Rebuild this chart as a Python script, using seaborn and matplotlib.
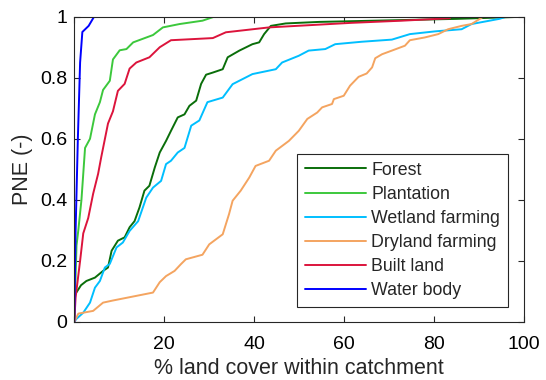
import numpy as np
import pandas as pd
import matplotlib
matplotlib.use("Agg")
import matplotlib.pyplot as plt
import seaborn as sns

categories = ["Forest", "Plantation", "Wetland farming", "Dryland farming", "Built land", "Water body"]
colors = ["#0a6e0a", "#3cc83c", "#00bfff", "#f4a460", "#dc143c", "#0000ff"]

forest_x = [0, 0.2, 1.5, 2.7, 4.6, 6.4, 7.5, 8.3, 9.7, 11.2, 12.3, 13.4, 14.5, 15.6, 16.7, 17.9, 19.0, 20.4,
            21.5, 23.0, 24.5, 25.6, 27.1, 28.2, 29.3, 30.8, 33.0, 34.1, 36.7, 39.6, 41.1, 42.2, 43.7, 47.0,
            54.4, 72.8, 85, 100]
forest_y = [0, 0.09, 0.12, 0.134, 0.145, 0.167, 0.178, 0.233, 0.266, 0.277, 0.31, 0.33, 0.375, 0.43, 0.446,
            0.506, 0.555, 0.593, 0.626, 0.67, 0.68, 0.708, 0.725, 0.78, 0.81, 0.817, 0.828, 0.867, 0.889,
            0.91, 0.916, 0.943, 0.97, 0.978, 0.983, 0.989, 0.993, 1.0]

plant_x = [0, 0.5, 0.9, 1.6, 2.4, 3.5, 4.6, 5.7, 6.4, 7.9, 8.6, 10.1, 11.6, 13.1, 17.5, 19.7, 23.4, 28.5, 31.1]
plant_y = [0, 0.25, 0.30, 0.40, 0.57, 0.60, 0.68, 0.72, 0.76, 0.79, 0.86, 0.89, 0.894, 0.916, 0.94, 0.965,
           0.976, 0.987, 1.0]

wet_x = [0, 0.5, 2.0, 3.5, 4.6, 5.7, 6.8, 7.9, 9.4, 10.8, 12.3, 14.2, 16.0, 17.5, 19.3, 20.4, 21.5, 23.0,
         24.5, 26.0, 27.8, 29.6, 33.0, 35.2, 39.6, 44.8, 46.2, 49.9, 52.1, 55.8, 58.0, 63.9, 70.6, 74.6,
         80.2, 86.1, 88.3, 94.5, 96]
wet_y = [0, 0.01, 0.03, 0.063, 0.112, 0.134, 0.178, 0.19, 0.244, 0.26, 0.298, 0.33, 0.407, 0.44, 0.462,
         0.517, 0.528, 0.555, 0.57, 0.643, 0.66, 0.72, 0.735, 0.779, 0.812, 0.828, 0.85, 0.872, 0.889,
         0.894, 0.91, 0.918, 0.925, 0.943, 0.952, 0.959, 0.976, 0.993, 1.0]

dry_x = [0, 0.9, 4.2, 6.4, 8.6, 17.5, 19.0, 20.4, 22.3, 23.7, 24.8, 28.5, 30.0, 33.0, 34.4, 35.2, 37.0, 38.9,
         40.3, 43.3, 44.8, 47.7, 49.9, 51.8, 54.0, 55.1, 57.3, 57.7, 59.9, 61.3, 63.2, 65.0, 66.2, 66.9,
         68.4, 70.6, 73.5, 74.6, 77.9, 80.9, 83.1, 86.1, 88.3, 90.9]
dry_y = [0, 0.027, 0.036, 0.063, 0.07, 0.096, 0.13, 0.15, 0.167, 0.189, 0.205, 0.22, 0.254, 0.287, 0.353,
         0.397, 0.43, 0.473, 0.511, 0.528, 0.561, 0.593, 0.626, 0.665, 0.686, 0.703, 0.714, 0.73, 0.741,
         0.774, 0.803, 0.814, 0.834, 0.864, 0.877, 0.889, 0.905, 0.923, 0.932, 0.943, 0.959, 0.97, 0.976, 1.0]

built_x = [0, 0.3, 1.3, 2.0, 3.1, 4.2, 5.3, 6.0, 7.5, 8.6, 9.7, 11.2, 12.3, 13.8, 16.7, 19.0, 21.5, 30.8,
           33.7, 43.3, 61.7, 72.8, 83.5]
built_y = [0, 0.08, 0.2, 0.29, 0.34, 0.42, 0.485, 0.54, 0.65, 0.69, 0.757, 0.78, 0.83, 0.85, 0.867, 0.90,
           0.923, 0.93, 0.949, 0.965, 0.98, 0.987, 0.995]

water_x = [0, 0.3, 0.8, 1.3, 1.8, 2.5, 3.2, 4.4]
water_y = [0, 0.3, 0.6, 0.85, 0.95, 0.96, 0.97, 1.0]

series = [(forest_x, forest_y), (plant_x, plant_y), (wet_x, wet_y),
          (dry_x, dry_y), (built_x, built_y), (water_x, water_y)]

frames = []
for name, (xs, ys) in zip(categories, series):
    frames.append(pd.DataFrame({"x": xs, "y": ys, "cover": name}))
df = pd.concat(frames, ignore_index=True)

sns.set_style("ticks")
plt.rcParams["font.family"] = ["Liberation Sans", "DejaVu Sans"]

fig = plt.figure(figsize=(5.46, 3.80), dpi=100)
ax = fig.add_axes([0.136, 0.153, 0.824, 0.803])

sns.lineplot(data=df, x="x", y="y", hue="cover", hue_order=categories,
             palette=dict(zip(categories, colors)), sort=False, estimator=None,
             linewidth=1.4, ax=ax)

ax.set_xlim(0, 100)
ax.set_ylim(0, 1)
ax.set_xticks([0, 20, 40, 60, 80, 100])
ax.set_xticklabels(["", "20", "40", "60", "80", "100"])
ax.set_yticks([0, 0.2, 0.4, 0.6, 0.8, 1.0])
ax.set_yticklabels(["0", "0.2", "0.4", "0.6", "0.8", "1"])
ax.tick_params(direction="in", top=True, right=True, length=4, width=0.8,
               labelsize=14, colors="#262626", labelcolor="black")
ax.tick_params(axis="x", pad=10)
ax.tick_params(axis="y", pad=5)
for s in ax.spines.values():
    s.set_visible(True)
    s.set_linewidth(0.8)
    s.set_color("#262626")
ax.set_xlabel("% land cover within catchment", fontsize=15.5, labelpad=4)
ax.set_ylabel("PNE (-)", fontsize=15.5, labelpad=5)

leg = ax.legend(loc="lower right", bbox_to_anchor=(0.964, 0.048), borderaxespad=0,
                fontsize=12.8, handlelength=3.4, handletextpad=0.3, labelspacing=0.4,
                borderpad=0.45, fancybox=False,
                frameon=True, edgecolor="#262626", framealpha=1, title=None)
leg.get_frame().set_linewidth(0.8)

fig.savefig("out.png", dpi=100)
